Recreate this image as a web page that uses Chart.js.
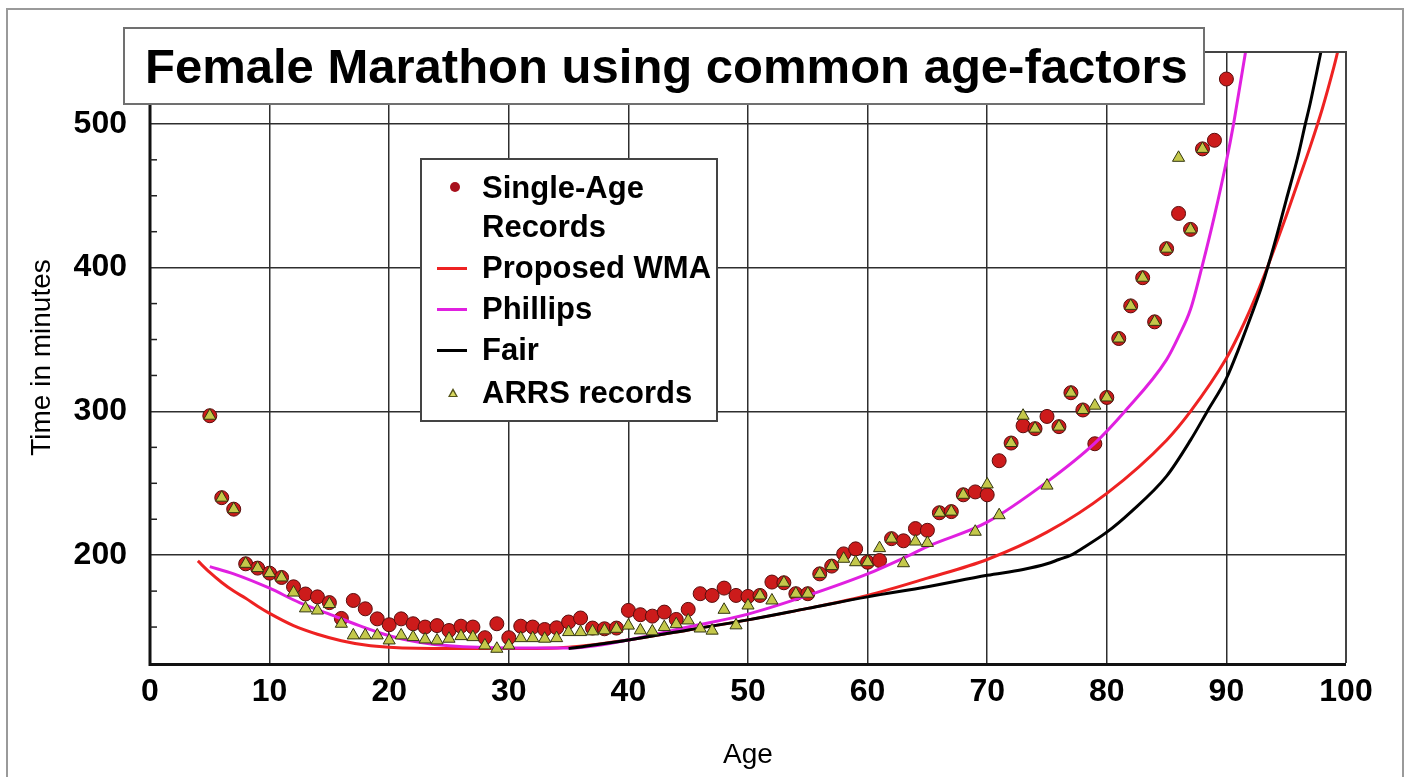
<!DOCTYPE html>
<html><head><meta charset="utf-8">
<script src="https://cdn.jsdelivr.net/npm/chart.js@4.4.1/dist/chart.umd.min.js"></script>
<style>
html,body{margin:0;padding:0;background:#fff;}
#wrap{position:relative;width:1411px;height:777px;overflow:hidden;font-family:"Liberation Sans",Arial,sans-serif;background:#fff;}
#c{position:absolute;left:0;top:0;}
#frame{position:absolute;left:6px;top:8px;width:1398px;height:800px;border:2px solid #9a9a9a;box-sizing:border-box;pointer-events:none;}
#title{position:absolute;left:123px;top:27px;width:1082px;height:78px;box-sizing:border-box;border:2px solid #707070;background:#fff;font-weight:bold;font-size:49px;line-height:74px;padding-left:20px;white-space:nowrap;color:#000;}
#legend{position:absolute;left:420px;top:158px;width:298px;height:264px;box-sizing:border-box;border:2px solid #444;background:#fff;}
.item{position:absolute;left:60px;font-weight:bold;font-size:31px;line-height:34px;color:#000;white-space:nowrap;}
.mk{position:absolute;}
</style>
</head><body>
<div id="wrap">
<canvas id="c" width="1411" height="777"></canvas>
<div id="frame"></div>
<div id="title">Female Marathon using common age-factors</div>
<div id="legend"></div>
</div>
<script>
// ---- data ----
const titleText = 'Female Marathon using common age-factors';
const xTicks = [0,10,20,30,40,50,60,70,80,90,100];
const yTicks = [200,300,400,500];

const singleAges = [5,6,7,8,9,10,11,12,13,14,15,16,17,18,19,20,21,22,23,24,25,26,27,28,29,30,31,32,33,34,35,36,37,38,39,40,41,42,43,44,45,46,47,48,49,50,51,52,53,54,55,56,57,58,59,60,61,62,63,64,65,66,67,68,69,70,71,72,73,74,75,76,77,78,79,80,81,82,83,84,85,86,87,88,89,90];
const singleTimes = [297,240,232,194,191,187.5,184.5,178,173,171,167,156,168.5,162.7,155.7,151.6,155.7,152.3,150,151,147.6,150.6,150,142.6,152.3,142.6,150.6,150,148.3,149.5,153.5,156.3,149.3,148.8,149.3,161.6,158.6,157.6,160.4,155.3,162.3,173.2,172,177.1,172,171.3,172,181.3,180.8,173.2,173.2,187,192.4,200.9,204.4,195.1,196.3,211.5,210,218.5,217.3,229.5,230.3,242,244,242,265.7,278,290,288,296.5,289.4,313,301,277.5,309.7,350.7,373.4,393,362.3,413.2,437.7,426.6,482.6,488.6,531.2];

const arrsAges = [5,6,7,8,9,10,11,12,13,14,15,16,17,18,19,20,21,22,23,24,25,26,27,28,29,30,31,32,33,34,35,36,37,38,39,40,41,42,43,44,45,46,47,48,49,50,51,52,53,54,55,56,57,58,59,60,61,62,63,64,65,66,67,68,69,70,71,72,73,74,75,76,77,78,79,80,81,82,83,84,85,86,87,88];
const arrsTimes = [297,240,232,194,191,187.5,184.5,174,163,161.5,166,152.3,144.2,144.2,144.2,140.7,144.2,143,141.4,140.7,141.9,143.7,143,137.2,134.9,137.2,142.3,142.3,141.9,142.3,146.5,146.5,147,147.7,148.8,151,147.7,147,150,152,154.6,149,147.5,162,151.2,165,172,168.5,180.8,173.2,173.2,187,192.4,197.5,195.1,195.1,204.9,211.5,194.4,209.5,208.5,229.5,230.3,242,216.3,249.2,227.8,278,297,288,248.4,289.4,313,301,304,309.7,350.7,373.4,393,362.3,413.2,476.4,426.6,482.6];

const wmaAges = [4,5,6,7,8,9,10,12,14,16,18,20,25,30,35,40,45,50,55,60,65,70,75,80,85,87,90,91,92,93,94,95,96,97,98,99,99.3];
const wmaTimes = [196,188,181,175,170,164.5,159.5,151,145,140.5,137.5,136,135,135,136,141,148,155,163,172,184,197,216,243,280,300,337,353,371,391,413,436,460,484,510,540,550];

const phillipsAges = [5,7,10,12.5,15,17.5,20,22.5,25,30,35,40,45,50,55,60,63,65,70,75,79,81.5,85,86,87,88,89,90,90.6,91,91.6];
const phillipsTimes = [192,187,177,167,159,151,144,139.5,137,135.5,135.5,141,150,159,172,187,198,206,223,251,278,300,336,352,371,402,436,474,500,520,550];

const fairAges = [35,40,45,50,55,60,65,70,73,75,76,77,78,80,82,85,87,88.4,90,91,92,93,94,95,96,96.6,97,97.9];
const fairTimes = [135,141,148,155,163,171,178,186,190,194,197,200,205,216,230,255,280,300,323,343,365,388,416,447,478,500,514,550];

const seriesNames = ['Single-Age Records','Proposed WMA','Phillips','Fair','ARRS records'];
const xTitle = 'Age';
const yTitle = 'Time in minutes';

// ---- build ----
const pts = (xs, ys) => xs.map((x,i)=>({x:x, y:ys[i]}));
const FONT = "'Liberation Sans', Arial, sans-serif";
const COL = {single:'#cc1b1b', singleB:'#5a0d0d', wma:'#ee2222', phil:'#e020e0', fair:'#000000', arrs:'#c4c84a', arrsB:'#33360f'};

const lineDs = (label, xs, ys, color, order) => ({
  label, data: pts(xs, ys), showLine:true, borderColor:color, backgroundColor:color,
  borderWidth:3, pointRadius:0, cubicInterpolationMode:'monotone', order
});

const datasets = [
  {label:seriesNames[0], data:pts(singleAges, singleTimes), pointStyle:'circle', pointRadius:7, pointBackgroundColor:COL.single, pointBorderColor:COL.singleB, pointBorderWidth:1, showLine:false, order:4},
  lineDs(seriesNames[1], wmaAges, wmaTimes, COL.wma, 3),
  lineDs(seriesNames[2], phillipsAges, phillipsTimes, COL.phil, 2),
  lineDs(seriesNames[3], fairAges, fairTimes, COL.fair, 1),
  {label:seriesNames[4], data:pts(arrsAges, arrsTimes), pointStyle:'triangle', pointRadius:7, pointBackgroundColor:COL.arrs, pointBorderColor:COL.arrsB, pointBorderWidth:1, showLine:false, order:0}
];

const framePlugin = {
  id:'frameLines',
  beforeDraw(chart){
    const {ctx} = chart;
    ctx.save(); ctx.fillStyle='#fff'; ctx.fillRect(0,0,chart.width,chart.height); ctx.restore();
  },
  afterDraw(chart){
    const {ctx, chartArea:{left,top,right,bottom}} = chart;
    ctx.save();
    ctx.strokeStyle='#444'; ctx.lineWidth=2;
    ctx.beginPath(); ctx.moveTo(left,top); ctx.lineTo(right,top); ctx.lineTo(right,bottom); ctx.stroke();
    ctx.strokeStyle='#111'; ctx.lineWidth=3;
    ctx.beginPath(); ctx.moveTo(left,top); ctx.lineTo(left,bottom+1.5); ctx.lineTo(right,bottom+1.5); ctx.stroke();
    const ys = chart.scales.y;
    ctx.lineWidth=1.5; ctx.strokeStyle='#222';
    for (let v=150; v<550; v+=25){
      if (v%100===0) continue;
      const py = ys.getPixelForValue(v);
      ctx.beginPath(); ctx.moveTo(left,py); ctx.lineTo(left+7,py); ctx.stroke();
    }
    ctx.restore();
  }
};

new Chart(document.getElementById('c'), {
  type:'scatter',
  data:{datasets},
  options:{
    responsive:false, animation:false, devicePixelRatio:1,
    layout:{padding:{left:0, top:52, right:65, bottom:0}},
    plugins:{legend:{display:false}, title:{display:false}, tooltip:{enabled:false}},
    scales:{
      x:{type:'linear', min:0, max:100,
        afterBuildTicks:s=>{ s.ticks = xTicks.map(v=>({value:v})); },
        afterFit:s=>{ s.height = 114; },
        grid:{color:'#2e2e2e', lineWidth:1.5, drawTicks:false},
        border:{display:false},
        ticks:{color:'#000', font:{family:FONT, size:32, weight:'bold'}, padding:10, maxRotation:0, autoSkip:false},
        title:{display:true, text:xTitle, color:'#000', font:{family:FONT, size:28}, padding:{top:0, bottom:5}}
      },
      y:{type:'linear', min:125, max:550,
        afterBuildTicks:s=>{ s.ticks = yTicks.map(v=>({value:v})); },
        afterFit:s=>{ s.width = 150; },
        grid:{color:'#2e2e2e', lineWidth:1.5, drawTicks:false},
        border:{display:false},
        ticks:{color:'#000', font:{family:FONT, size:32, weight:'bold'}, padding:23},
        title:{display:true, text:yTitle, color:'#000', font:{family:FONT, size:28}, padding:{top:25, bottom:0}}
      }
    }
  },
  plugins:[framePlugin]
});

// ---- legend (HTML, from dataset labels) ----
const leg = document.getElementById('legend');
const rows = [
  {c:27, kind:'dot'}, {c:108, kind:'line', col:COL.wma}, {c:149, kind:'line', col:COL.phil}, {c:190, kind:'line', col:COL.fair}, {c:233, kind:'tri'}
];
rows.forEach((r,i)=>{
  const t = document.createElement('div');
  t.className='item';
  if (i===0){
    t.style.whiteSpace='normal'; t.style.width='200px'; t.style.lineHeight='39px'; t.style.top=(r.c-19.5)+'px';
  } else { t.style.top=(r.c-17)+'px'; }
  t.textContent = seriesNames[i];
  leg.appendChild(t);
  const m = document.createElement('div'); m.className='mk';
  if (r.kind==='dot'){
    Object.assign(m.style,{left:'28px',top:(r.c-5)+'px',width:'10px',height:'10px',borderRadius:'50%',background:'#a8101c'});
  } else if (r.kind==='line'){
    Object.assign(m.style,{left:'15px',top:(r.c-1.5)+'px',width:'30px',height:'3px',background:r.col});
  } else {
    Object.assign(m.style,{left:'26px',top:(r.c-5)+'px',width:'0',height:'0',borderLeft:'5px solid transparent',borderRight:'5px solid transparent',borderBottom:'9px solid #55551a'});
    const inner = document.createElement('div');
    Object.assign(inner.style,{position:'absolute',left:'-3px',top:'3px',width:'0',height:'0',borderLeft:'3px solid transparent',borderRight:'3px solid transparent',borderBottom:'5px solid #d8d860'});
    m.appendChild(inner);
  }
  leg.appendChild(m);
});
</script>
</body></html>
